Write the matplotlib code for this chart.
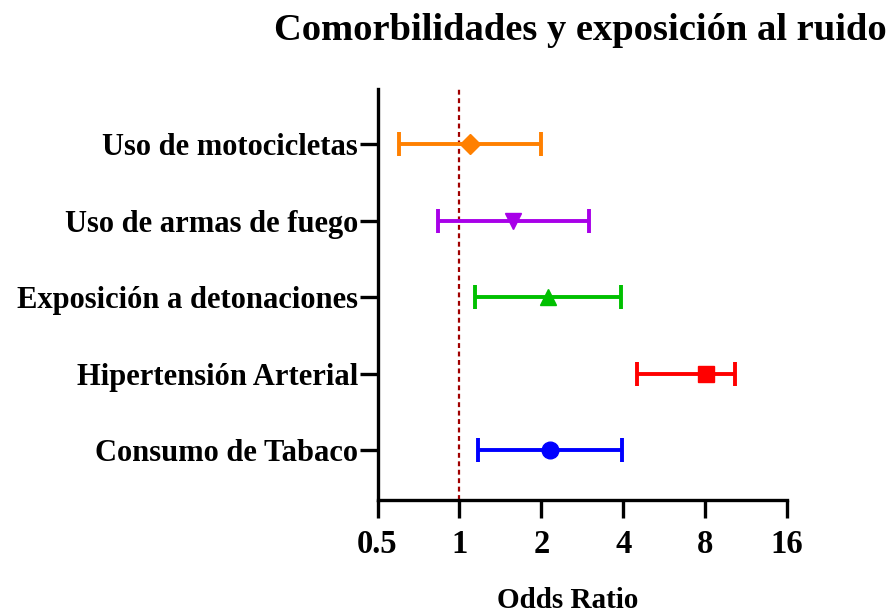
import numpy as np
from matplotlib import pyplot as plt
from matplotlib.ticker import FixedLocator, FixedFormatter, NullLocator

'''data'''
labels = ['Consumo de Tabaco', 'Hipertensión Arterial', 'Exposición a detonaciones',
          'Uso de armas de fuego', 'Uso de motocicletas']
odds = [2.15, 8.05, 2.12, 1.58, 1.09]
ci_low = [1.17, 4.48, 1.145, 0.835, 0.60]
ci_high = [3.95, 10.3, 3.92, 3.0, 1.99]
colors = ['#0000FF', '#FF0000', '#00C000', '#A800E8', '#FF8000']
markers = ['o', 's', '^', 'v', 'D']
xticks = [0.5, 1, 2, 4, 8, 16]
xtick_labels = ['0.5', '1', '2', '4', '8', '16']

plt.rcParams['font.family'] = ['Liberation Serif', 'DejaVu Serif']
plt.rcParams['font.weight'] = 'bold'

'''plot prep'''
fig = plt.figure(figsize=(8.91, 6.15), dpi=100)
ax = fig.add_axes([377.5 / 891, 1 - 500 / 615, (787 - 377.5) / 891, (500 - 89) / 615])

ypos = np.arange(1, len(labels) + 1)
for i in range(len(labels)):
    err = [[odds[i] - ci_low[i]], [ci_high[i] - odds[i]]]
    ms = 10 if markers[i] == 'D' else 12
    ax.errorbar(odds[i], ypos[i], xerr=err, fmt=markers[i], color=colors[i],
                ecolor=colors[i], elinewidth=2.8, capsize=8.5, capthick=2.8,
                markersize=ms, zorder=3)

ax.axvline(1, color='#A00000', linestyle=(0, (2.2, 1.6)), linewidth=1.6, zorder=1)

ax.set_xscale('log', base=2)
ax.set_xlim(0.5, 16)
ax.set_ylim(0.35, 5.72)
ax.xaxis.set_major_locator(FixedLocator(xticks))
ax.xaxis.set_major_formatter(FixedFormatter(xtick_labels))
ax.xaxis.set_minor_locator(NullLocator())
ax.set_yticks(ypos)
ax.set_yticklabels(labels)

for s in ['top', 'right']:
    ax.spines[s].set_visible(False)
for s in ['left', 'bottom']:
    ax.spines[s].set_linewidth(2.4)
ax.tick_params(axis='both', width=2.4, length=13)
ax.tick_params(axis='y', labelsize=22, pad=1)
ax.tick_params(axis='x', labelsize=23.5, pad=8)
for lbl in ax.get_xticklabels() + ax.get_yticklabels():
    lbl.set_fontweight('bold')

fig.text(568 / 891, 1 - 600 / 615, 'Odds Ratio', ha='center', va='center',
         fontsize=21, fontweight='bold')
fig.text(580 / 891, 1 - 30 / 615, 'Comorbilidades y exposición al ruido',
         ha='center', va='center', fontsize=27.7, fontweight='bold')

plt.savefig('out.png', dpi=100)
